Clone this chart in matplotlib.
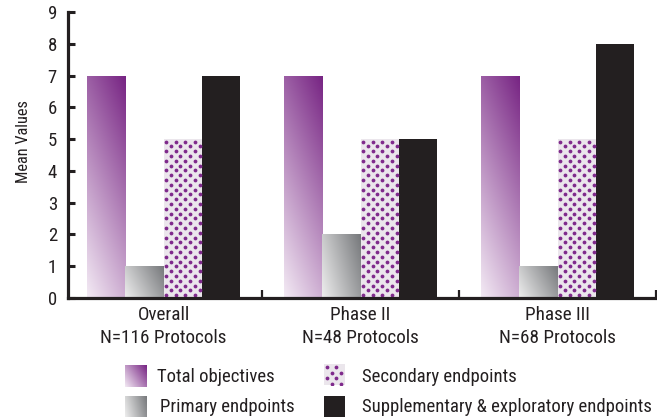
import numpy as np
import matplotlib
matplotlib.use("Agg")
import matplotlib.pyplot as plt
from matplotlib import font_manager
from matplotlib.colors import to_rgb

# ---------------- data ----------------
groups = ["Overall\nN=116 Protocols", "Phase II\nN=48 Protocols", "Phase III\nN=68 Protocols"]
series_names = ["Total objectives", "Primary endpoints",
                "Secondary endpoints", "Supplementary & exploratory endpoints"]
total_objectives = [7, 7, 7]
primary_endpoints = [1, 2, 1]
secondary_endpoints = [5, 5, 5]
supplementary_endpoints = [7, 5, 8]
y_ticks = list(range(0, 10))
y_label = "Mean Values"

# ---------------- fonts ----------------
names = {f.name for f in font_manager.fontManager.ttflist}
FONT, SC = "Liberation Sans", 0.82
for cand in ["Roboto Condensed", "Archivo Narrow", "PT Sans Narrow", "Liberation Sans Narrow"]:
    if cand in names:
        FONT, SC = cand, 1.0
        break
plt.rcParams["font.family"] = [FONT, "DejaVu Sans"]
TXT = "#231f20"

W, H = 657, 419
fig = plt.figure(figsize=(W / 100, H / 100), dpi=100)
fig.patch.set_facecolor("white")


def fx(px):
    return px / W


def fy(py):
    return 1 - py / H


ax = fig.add_axes([fx(68), fy(298), fx(657 - 68), fy(12) - fy(298)])

n = len(groups)
centers = np.arange(n)
bw = 0.195
offsets = np.array([-1.5, -0.5, 0.5, 1.5]) * bw

XLIM = (-0.485, 2.505)
YLIM = (0, 9)
ax.set_xlim(*XLIM)
ax.set_ylim(*YLIM)
ax.autoscale(False)

C_TOT0, C_TOT1 = to_rgb("#f3eaf4"), to_rgb("#772483")
C_PRI0, C_PRI1 = to_rgb("#eeeeee"), to_rgb("#76787b")
C_SEC_BG, C_SEC_DOT = "#ebe6ec", "#7f2a8c"
C_SUP = "#231f20"


def gradient_fill(axx, patch, c0, c1, wu, wv, extent=None, res=80):
    if extent is None:
        x, y = patch.get_x(), patch.get_y()
        w, h = patch.get_width(), patch.get_height()
        extent = (x, x + w, y, y + h)
    u = np.linspace(0, 1, res)[None, :]
    v = np.linspace(0, 1, res)[:, None]
    t = np.clip(wu * u + wv * v, 0, 1)
    img = (1 - t)[..., None] * np.array(c0) + t[..., None] * np.array(c1)
    im = axx.imshow(img, extent=extent, origin="lower", aspect="auto",
                    interpolation="bilinear", zorder=2)
    if patch is not None:
        im.set_clip_path(patch)
    return im


ROW_PX, COL_PX, DOT_R = 4.8, 9.6, 1.9


def dots_in_pixels(x0, y0, x1, y1, row_px=ROW_PX, col_px=COL_PX, start=2.4):
    pts = []
    ys = np.arange(y1 - start, y0, -row_px)
    for i, yy in enumerate(ys):
        off = start + (col_px / 2 if i % 2 else 0)
        for xx in np.arange(x0 + off, x1, col_px):
            pts.append((xx, yy))
    return np.array(pts)


series = [total_objectives, primary_endpoints, secondary_endpoints, supplementary_endpoints]
containers = []
for k, vals in enumerate(series):
    if k == 3:
        bc = ax.bar(centers + offsets[k], vals, width=bw, color=C_SUP,
                    edgecolor="none", zorder=2)
    elif k == 2:
        bc = ax.bar(centers + offsets[k], vals, width=bw, color=C_SEC_BG,
                    edgecolor="none", zorder=2)
    else:
        bc = ax.bar(centers + offsets[k], vals, width=bw, color="none",
                    edgecolor="none", zorder=2)
    containers.append(bc)

for p in containers[0]:
    gradient_fill(ax, p, C_TOT0, C_TOT1, 0.3, 0.7)
for p in containers[1]:
    gradient_fill(ax, p, C_PRI0, C_PRI1, 0.7, 0.3)

dot_s = (2 * DOT_R * 72 / 100) ** 2
for p in containers[2]:
    (x0, y0) = ax.transData.transform((p.get_x(), p.get_y()))
    (x1, y1) = ax.transData.transform((p.get_x() + p.get_width(), p.get_y() + p.get_height()))
    pts = dots_in_pixels(x0, y0, x1, y1)
    d = ax.transData.inverted().transform(pts)
    sc = ax.scatter(d[:, 0], d[:, 1], s=dot_s, c=C_SEC_DOT, linewidths=0, zorder=3)
    sc.set_clip_path(p)

ax.set_xlim(*XLIM)
ax.set_ylim(*YLIM)

# ---------------- axes styling ----------------
for s in ["top", "right"]:
    ax.spines[s].set_visible(False)
for s in ["left", "bottom"]:
    ax.spines[s].set_linewidth(2.3)
    ax.spines[s].set_color(TXT)
    ax.spines[s].set_zorder(5)

ax.set_yticks(y_ticks)
ax.set_yticklabels([str(v) for v in y_ticks])
ax.tick_params(axis="y", direction="in", length=5, width=2.2, color=TXT,
               labelsize=13.5 * SC, labelcolor=TXT, pad=8)

ax.set_xticks(centers)
ax.set_xticklabels(groups, linespacing=1.32)
ax.tick_params(axis="x", which="major", length=0, labelsize=13.8 * SC,
               labelcolor=TXT, pad=6)
ax.set_xticks([0.5, 1.5, 2.5], minor=True)
ax.tick_params(axis="x", which="minor", direction="in", length=5.5,
               width=1.6, color=TXT)
ax.set_facecolor("none")

fig.text(fx(24), fy(142), y_label, rotation=90, ha="center", va="center",
         fontsize=11.8 * SC, color=TXT)

# ---------------- legend ----------------
def swatch(px0, py0, px1, py1):
    a = fig.add_axes([fx(px0), fy(py1), fx(px1 - px0), fy(py0) - fy(py1)])
    a.set_axis_off()
    a.set_xlim(0, 1)
    a.set_ylim(0, 1)
    return a


a1 = swatch(125, 365, 147, 387)
gradient_fill(a1, None, C_TOT0, C_TOT1, 0.6, 0.4, extent=(0, 1, 0, 1))
a1.set_xlim(0, 1); a1.set_ylim(0, 1)

a2 = swatch(125, 396, 147, 417)
gradient_fill(a2, None, C_PRI0, C_PRI1, 0.8, 0.2, extent=(0, 1, 0, 1))
a2.set_xlim(0, 1); a2.set_ylim(0, 1)

a3 = swatch(324, 364, 345, 385)
a3.add_patch(plt.Rectangle((0, 0), 1, 1, color=C_SEC_BG, zorder=1))
px_w, px_h = 21, 21
pts = dots_in_pixels(0, 0, px_w, px_h, row_px=5.5, col_px=9.0, start=3.0)
a3.scatter(pts[:, 0] / px_w, pts[:, 1] / px_h, s=dot_s, c=C_SEC_DOT,
           linewidths=0, zorder=2, clip_on=True)
a3.set_xlim(0, 1); a3.set_ylim(0, 1)

a4 = swatch(324, 396, 345, 417)
a4.add_patch(plt.Rectangle((0, 0), 1, 1, color=C_SUP))

LFS = 13.5 * SC
fig.text(fx(157), fy(377), series_names[0], ha="left", va="center", fontsize=LFS, color=TXT)
fig.text(fx(160), fy(407), series_names[1], ha="left", va="center", fontsize=LFS, color=TXT)
fig.text(fx(362), fy(377), series_names[2], ha="left", va="center", fontsize=LFS, color=TXT)
fig.text(fx(362), fy(407), series_names[3], ha="left", va="center", fontsize=LFS, color=TXT)

fig.savefig("out.png", dpi=100)
